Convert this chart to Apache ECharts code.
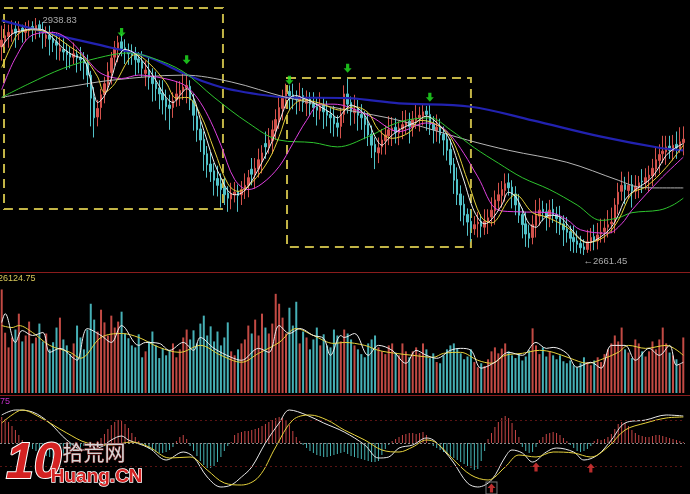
<!DOCTYPE html>
<html><head><meta charset="utf-8">
<script src="https://cdn.jsdelivr.net/npm/echarts/dist/echarts.min.js"></script>
<style>html,body{margin:0;padding:0;background:#000;}#c{width:690px;height:494px;}</style>
</head><body><div id="c"></div>
<script>
// ---------- price (OHLC) ----------
const opens = [
2905,2912,2917,2920,2926,2921,2927,2922,2924,2929,
2925,2931,2925,2915,2919,2915,2911,2900,2902,2900,
2897,2893,2896,2893,2890,2886,2872,2846,2823,2834,
2849,2861,2875,2893,2903,2911,2904,2901,2899,2896,
2891,2888,2874,2877,2870,2863,2857,2851,2844,2837,
2834,2843,2849,2853,2857,2859,2842,2824,2809,2797,
2780,2768,2760,2751,2745,2740,2734,2727,2732,2736,
2732,2737,2743,2762,2757,2762,2772,2792,2789,2795,
2807,2819,2833,2844,2853,2849,2846,2842,2848,2839,
2844,2839,2835,2830,2837,2830,2826,2823,2816,2812,
2826,2850,2840,2828,2833,2826,2822,2815,2803,2791,
2781,2788,2795,2801,2807,2811,2804,2809,2813,2818,
2811,2819,2821,2824,2830,2826,2815,2807,2812,2803,
2797,2785,2768,2750,2733,2721,2709,2701,2692,2698,
2701,2694,2700,2706,2713,2725,2731,2737,2746,2741,
2733,2721,2709,2698,2687,2682,2696,2707,2715,2712,
2705,2715,2709,2705,2698,2692,2689,2682,2678,2675,
2671,2668,2676,2683,2678,2686,2689,2694,2698,2700,
2721,2736,2744,2737,2744,2736,2741,2748,2746,2751,
2754,2762,2772,2780,2782,2789,2783,2791,2786,2793];
const closes = [
2913,2918,2922,2925,2921,2926,2923,2925,2928,2926,
2930,2924,2921,2919,2914,2910,2907,2904,2899,2896,
2893,2897,2892,2890,2886,2872,2845,2822,2833,2849,
2862,2876,2892,2904,2910,2903,2900,2897,2895,2890,
2887,2880,2878,2869,2862,2856,2850,2843,2835,2833,
2842,2850,2854,2858,2860,2843,2825,2808,2796,2779,
2767,2759,2749,2743,2738,2732,2728,2733,2735,2731,
2738,2743,2752,2756,2763,2773,2781,2788,2796,2808,
2820,2834,2845,2852,2848,2844,2843,2847,2840,2843,
2838,2834,2831,2836,2829,2825,2822,2815,2811,2825,
2850,2838,2829,2832,2825,2822,2814,2802,2790,2782,
2787,2796,2802,2808,2810,2805,2810,2814,2817,2812,
2820,2822,2825,2829,2826,2814,2808,2811,2802,2796,
2784,2767,2749,2732,2720,2708,2700,2693,2697,2700,
2695,2701,2705,2714,2726,2732,2738,2745,2740,2732,
2720,2708,2697,2686,2681,2697,2708,2714,2711,2706,
2714,2708,2704,2697,2691,2688,2681,2677,2674,2670,
2668,2677,2682,2679,2685,2688,2693,2697,2700,2720,
2735,2743,2738,2743,2737,2742,2746,2747,2752,2755,
2763,2773,2779,2783,2788,2784,2790,2787,2794,2797];
const highs = [
2930,2932,2931,2936,2935,2935,2931,2934,2936,2935,
2938.83,2936,2934,2929,2930,2923,2921,2917,2915,2909,
2906,2910,2902,2905,2899,2896,2877,2858,2843,2856,
2870,2887,2899,2912,2918,2920,2914,2909,2908,2905,
2899,2900,2889,2893,2880,2876,2866,2866,2855,2849,
2852,2865,2865,2875,2874,2866,2850,2834,2818,2806,
2789,2782,2769,2766,2757,2752,2742,2746,2747,2744,
2748,2757,2761,2775,2775,2786,2790,2806,2810,2819,
2832,2847,2855,2862,2860,2862,2854,2863,2857,2854,
2852,2852,2845,2852,2845,2842,2834,2836,2825,2834,
2860,2868,2847,2849,2843,2838,2830,2828,2813,2799,
2799,2809,2813,2824,2823,2822,2818,2830,2831,2828,
2830,2837,2835,2838,2836,2838,2824,2826,2821,2812,
2804,2797,2775,2764,2743,2731,2716,2714,2707,2712,
2709,2715,2715,2729,2737,2746,2748,2757,2757,2749,
2742,2733,2716,2712,2697,2708,2726,2728,2725,2722,
2726,2727,2718,2719,2708,2706,2696,2696,2690,2684,
2680,2691,2693,2697,2699,2704,2704,2714,2717,2728,
2746,2759,2753,2759,2755,2755,2754,2762,2763,2766,
2774,2787,2791,2801,2801,2801,2802,2806,2811,2812];
const lows = [
2889,2905,2904,2911,2904,2913,2910,2911,2917,2911,
2914,2916,2903,2905,2895,2899,2890,2889,2889,2878,
2880,2885,2875,2877,2867,2858,2812,2799,2812,2820,
2839,2853,2861,2883,2887,2894,2885,2884,2884,2872,
2874,2870,2859,2855,2841,2842,2832,2826,2819,2808,
2822,2835,2836,2843,2839,2831,2807,2794,2782,2760,
2752,2747,2731,2730,2717,2720,2712,2715,2723,2712,
2720,2727,2729,2743,2739,2752,2757,2774,2780,2780,
2796,2809,2819,2833,2831,2832,2826,2830,2829,2824,
2824,2823,2813,2820,2809,2812,2804,2800,2800,2798,
2816,2827,2813,2815,2807,2808,2797,2789,2775,2762,
2769,2779,2779,2790,2789,2792,2790,2797,2803,2792,
2800,2809,2806,2813,2807,2802,2792,2794,2792,2778,
2772,2757,2733,2720,2701,2696,2684,2677,2685,2682,
2682,2685,2686,2695,2697,2714,2717,2724,2731,2716,
2708,2699,2681,2671,2670,2674,2682,2696,2701,2690,
2694,2699,2687,2685,2672,2676,2666,2664,2664,2663,
2661.45,2664,2666,2667,2668,2676,2676,2682,2687,2687,
2709,2725,2721,2727,2717,2727,2728,2734,2738,2735,
2742,2753,2757,2769,2767,2774,2772,2774,2781,2778];

// moving averages: [bar index, price]
const ma5 = [[0,2905],[3,2920],[6,2924],[9,2926],[12,2925],[15,2915],[18,2903],[21,2895],[24,2890],[26,2866],[27,2850],[28,2840],[30,2848],[32,2868],[34,2893],[36,2902],[39,2897],[42,2884],[45,2866],[48,2846],[50,2840],[52,2848],[54,2856],[56,2846],[58,2820],[60,2795],[62,2770],[64,2752],[66,2737],[68,2732],[70,2734],[72,2742],[74,2755],[76,2770],[78,2786],[80,2805],[82,2828],[84,2845],[86,2848],[88,2845],[90,2842],[93,2835],[96,2828],[98,2822],[100,2830],[102,2837],[105,2830],[107,2818],[109,2800],[111,2790],[113,2798],[115,2805],[118,2812],[121,2817],[124,2824],[126,2820],[129,2808],[131,2795],[133,2772],[135,2748],[137,2722],[139,2705],[141,2698],[143,2703],[146,2720],[148,2735],[150,2730],[152,2715],[154,2698],[156,2694],[158,2703],[160,2708],[163,2706],[166,2693],[169,2680],[171,2676],[173,2678],[176,2686],[178,2694],[180,2708],[182,2726],[185,2738],[188,2746],[190,2753],[192,2765],[194,2778],[196,2785],[199,2792]];
const ma10 = [[0,2881],[3,2908],[5,2921],[9,2925],[14,2921],[20,2905],[24,2893],[28,2870],[30,2852],[33,2862],[37,2890],[39,2896],[43,2886],[48,2863],[51,2845],[54,2846],[58,2826],[62,2785],[66,2745],[69,2736],[73,2746],[78,2773],[81,2800],[84,2831],[88,2843],[93,2839],[99,2831],[103,2835],[107,2828],[110,2808],[114,2798],[119,2805],[122,2819],[126,2816],[131,2800],[136,2749],[140,2706],[143,2699],[148,2726],[150,2732],[155,2711],[159,2706],[165,2694],[171,2676],[176,2683],[180,2702],[184,2734],[188,2741],[194,2764],[199,2790]];
const ma20 = [[0,2855],[4,2892],[9,2919],[15,2922],[20,2912],[25,2890],[29,2874],[35,2868],[40,2872],[45,2870],[52,2863],[55,2855],[58,2840],[61,2818],[64,2790],[68,2750],[72,2738],[76,2745],[81,2765],[85,2792],[89,2819],[93,2838],[97,2838],[101,2835],[108,2823],[116,2806],[124,2816],[128,2812],[131,2802],[135,2780],[139,2753],[145,2714],[151,2712],[160,2711],[165,2703],[169,2691],[177,2687],[181,2698],[184,2714],[192,2749],[199,2776]];
const ma30 = [[0,2846],[8,2862],[18,2880],[28,2892],[37,2898],[44,2892],[53,2876],[62,2846],[72,2816],[81,2796],[91,2793],[98,2788],[107,2800],[116,2817],[125,2822],[131,2808],[138,2787],[145,2769],[152,2752],[160,2738],[168,2720],[175,2702],[180,2705],[184,2711],[192,2714],[196,2720],[199,2728]];
const ma60 = [[0,2846],[10,2853],[19,2858],[32,2866],[53,2872],[67,2864],[83,2846],[101,2831],[116,2819],[136,2796],[148,2784],[165,2770],[180,2749],[186,2741],[192,2740],[199,2740]];
const ma120 = [[0,2936],[15,2920],[32,2904],[43,2893],[52,2876],[60,2863],[67,2855],[83,2846],[101,2845],[116,2839],[137,2835],[155,2819],[175,2800],[192,2787],[199,2784]];

// annotations
const boxes = [[0.67,2950.5,64.6,2715.3],[83.3,2868.6,137.0,2670.8]];
const topArrows = [[35,2922],[54,2890],[84,2866],[101,2880],[125,2846]];
const extremes = [[10,2938.83,'2938.83'],[170,2661.45,'←2661.45']];

// ---------- volume ----------
const volumes = [
26100,15200,11500,14000,16000,20000,13000,14500,18000,12500,
14000,17500,13000,15000,11000,12800,16500,19000,13500,12000,
9800,12500,17000,14000,11000,16000,22500,18500,15500,21000,
17800,14500,19500,16500,18000,20500,15000,13800,12000,11500,
14800,9000,10500,13000,15500,12000,8800,11200,9500,10800,
12500,9000,11000,14000,16000,13500,15800,12500,17500,19500,
14500,16800,13000,15500,12000,14000,17800,10500,9500,11000,
12500,13500,17000,15000,18500,14500,20000,16500,15000,17500,
25000,22500,19000,15000,21500,17000,23000,12500,15500,14000,
11000,13500,16500,12000,14800,12000,11500,16000,14500,13000,
16000,15000,13500,12000,11000,9800,9000,12500,13500,14500,
11500,10500,9800,12000,12500,10200,9500,12500,10500,9000,
10500,11500,10000,12500,11000,8800,10000,7800,7500,9500,
11000,12000,12500,11200,10000,8500,9200,11000,7800,6500,
7500,6800,8500,10500,11500,10000,11200,12500,10500,9500,
8800,9800,8200,9200,10800,16300,12000,9800,11500,9200,
10500,9500,8500,9500,8000,7500,8200,7000,6500,7500,
9000,7800,7000,8200,9000,7800,9800,11000,12500,14500,
13000,16500,11000,10200,8800,13500,12500,10500,9200,10500,
13000,11000,13500,16500,12500,10200,9500,8500,7200,14000];
const volMa5 = [[0,17750],[1,20000],[4,12750],[6,15750],[9,14500],[12,15250],[14,10250],[17,11250],[21,8750],[22,8250],[25,16250],[29,14500],[32,12750],[35,17000],[40,12000],[42,12750],[46,12500],[49,10750],[53,12750],[56,10750],[58,14000],[62,11250],[67,9000],[70,8250],[75,11250],[78,10250],[81,17000],[84,15000],[87,16250],[91,14500],[94,13750],[96,9500],[99,14500],[100,14000],[103,15000],[107,9500],[110,12000],[114,10750],[118,7500],[121,10750],[124,9500],[127,8750],[131,10750],[134,11250],[137,10750],[140,6250],[144,7750],[148,10250],[152,9500],[156,12750],[159,11250],[161,11500],[165,10000],[168,6500],[172,7750],[175,6250],[178,12000],[182,12000],[185,8250],[189,11250],[192,9500],[195,12000],[197,7000],[199,7750]];
const volMa10 = [[0,17000],[3,16500],[5,17000],[9,15250],[14,12000],[20,10250],[23,8750],[29,14000],[35,15000],[40,14000],[46,11500],[52,10250],[58,12000],[64,9500],[70,7750],[75,10000],[81,12750],[86,16250],[91,14500],[97,12500],[100,12750],[106,12000],[110,10750],[115,10000],[120,9500],[126,9000],[129,10000],[134,10250],[139,8250],[143,7500],[147,9500],[152,10000],[157,10750],[161,10250],[166,8750],[171,7500],[176,8750],[180,10250],[183,12000],[188,11250],[194,12000],[199,9500]];

// ---------- MACD ----------
const macdHist = [
26,24,21,17,13,8,3,-2,-4,-6,
-8,-10,-12,-13,-14,-15,-15,-14,-13,-11,
-9,-8,-6,-5,-3,-2,-3,-1,2,5,
9,14,18,21,23,22,19,15,10,6,
2,-2,-4,-6,-8,-9,-10,-10,-9,-7,
-4,2,6,8,4,-3,-8,-13,-18,-22,
-25,-25,-23,-19,-14,-8,-3,1,8,10,
11,12,12,13,14,15,17,19,21,23,
25,26,25,22,18,12,6,2,-2,-5,
-8,-10,-12,-13,-14,-14,-13,-12,-11,-10,
-9,-11,-13,-14,-15,-16,-17,-18,-19,-19,
-18,-12,-6,-2,2,4,6,8,9,10,
10,9,10,11,8,-1,-3,-5,-7,-9,
-11,-13,-15,-17,-19,-21,-23,-25,-27,-26,
-18,-8,4,10,16,21,25,27,25,20,
13,6,-4,-8,-10,-9,-4,3,6,9,
10,11,10,8,5,2,-2,-5,-8,-9,
-8,-6,-3,2,4,3,4,6,9,14,
19,21,20,17,13,10,8,7,6,6,
7,8,8,7,6,5,4,3,2,1];
const dif = [[0,28],[4,33],[9,31],[14,20],[19,3],[24,-7],[29,-4],[32,3],[35,7],[37,3],[43,-5],[48,-17],[53,-9],[56,-14],[60,-34],[64,-44],[67,-42],[70,-34],[73,-24],[77,0],[81,20],[84,33],[89,28],[94,20],[100,11],[106,-2],[110,-15],[113,-14],[116,-5],[120,-2],[124,5],[126,3],[129,-7],[132,-20],[136,-40],[139,-44],[143,-37],[147,-14],[149,-7],[152,-10],[155,-19],[159,-9],[162,-5],[167,-9],[170,-17],[174,-12],[178,3],[182,20],[188,23],[194,28],[199,27]];
const dea = [[0,20],[3,28],[6,33],[11,26],[19,10],[25,0],[32,-2],[38,1],[43,-4],[49,-15],[55,-14],[60,-27],[65,-40],[70,-42],[75,-34],[80,-4],[85,23],[90,28],[95,23],[100,13],[106,3],[111,-7],[116,-9],[120,-4],[124,3],[127,0],[132,-17],[137,-32],[142,-37],[147,-24],[151,-12],[156,-14],[161,-9],[167,-10],[172,-14],[177,-4],[182,13],[188,20],[194,25],[199,26]];
const macdArrows = [[143,-45],[156,-24],[172,-25]];
const boxedArrows = [[143,-45]];

// ---------- chart ----------
const N = closes.length;
const categories = closes.map((_, i) => String(i));
const UP = '#d4524c', DOWN = '#52c2c8';
const VUP = '#c24a44', VDOWN = '#46b0b6';

const chart = echarts.init(document.getElementById('c'), null, {renderer: 'canvas'});
const grids = [
  {left: 0, right: 5, top: 0, height: 272},
  {left: 0, right: 5, top: 274, height: 119},
  {left: 0, right: 5, top: 397, height: 97}
];
const catAxis = g => ({type: 'category', gridIndex: g, data: categories, show: false, boundaryGap: true});
const valAxis = g => ({type: 'value', gridIndex: g, min: -0.5, max: N - 0.5, show: false});
function maLine(name, data, color, width, xi, yi, z) {
  return {name, type: 'line', xAxisIndex: xi, yAxisIndex: yi, data, smooth: 0.35,
    showSymbol: false, symbol: 'none', silent: true, z: z || 3,
    lineStyle: {color, width: width || 1}};
}
const downArrow = 'path://M3,0H7V5H10L5,10L0,5H3Z';
const upArrow = 'path://M5,0L10,5H7V10H3V5H0Z';
const smallFont = {color: '#d2d2d2', fontSize: 9.5, fontFamily: 'Liberation Sans'};

chart.setOption({
  backgroundColor: '#000000',
  animation: false,
  grid: grids,
  xAxis: [catAxis(0), catAxis(1), catAxis(2), valAxis(0), valAxis(1), valAxis(2)],
  yAxis: [
    {type: 'value', gridIndex: 0, min: 2641.6, max: 2959.9, show: false, splitLine: {show: false}},
    {type: 'value', gridIndex: 1, min: 0, max: 30000, show: false, splitLine: {show: false}},
    {type: 'value', gridIndex: 2, min: -51, max: 46, show: false, splitLine: {show: false}}
  ],
  series: [
    {type: 'candlestick', xAxisIndex: 0, yAxisIndex: 0, barWidth: 2,
     data: closes.map((c, i) => [opens[i], c, lows[i], highs[i]]),
     itemStyle: {color: UP, color0: DOWN, borderColor: UP, borderColor0: DOWN, borderWidth: 1}, z: 2},
    maLine('MA120', ma120, '#2222b0', 2.2, 3, 0),
    maLine('MA60', ma60, '#b4b4b4', 1, 3, 0),
    maLine('MA30', ma30, '#2ec42e', 1, 3, 0),
    maLine('MA20', ma20, '#e040e0', 1, 3, 0),
    maLine('MA10', ma10, '#e6d23c', 1, 3, 0),
    maLine('MA5', ma5, '#f0f0f0', 1, 3, 0),
    {type: 'line', xAxisIndex: 3, yAxisIndex: 0, data: [], silent: true, z: 4,
     markArea: {silent: true,
       itemStyle: {color: 'rgba(0,0,0,0)', borderColor: '#c2b446', borderWidth: 2, borderType: [9, 6]},
       data: boxes.map(b => [{coord: [b[0], b[1]]}, {coord: [b[2], b[3]]}])}},
    {type: 'scatter', xAxisIndex: 3, yAxisIndex: 0, data: topArrows, symbol: downArrow,
     symbolSize: [8, 9], itemStyle: {color: '#22e622'}, z: 6, silent: true},
    {type: 'scatter', xAxisIndex: 3, yAxisIndex: 0, symbolSize: 1, silent: true, z: 6,
     itemStyle: {color: 'rgba(0,0,0,0)'},
     data: [
       {value: [extremes[0][0], extremes[0][1]], label: Object.assign({show: true, formatter: extremes[0][2], position: [7, -2], align: 'left', verticalAlign: 'top'}, smallFont)},
       {value: [extremes[1][0], extremes[1][1]], label: Object.assign({show: true, formatter: extremes[1][2], position: [0, 2], align: 'left', verticalAlign: 'top'}, smallFont)}
     ]},
    {type: 'bar', xAxisIndex: 1, yAxisIndex: 1, barWidth: 2, silent: true,
     data: volumes.map((v, i) => ({value: v, itemStyle: {color: closes[i] >= opens[i] ? VUP : VDOWN}}))},
    maLine('VMA10', volMa10, '#e6d23c', 1, 4, 1),
    maLine('VMA5', volMa5, '#f0f0f0', 1, 4, 1),
    {type: 'bar', xAxisIndex: 2, yAxisIndex: 2, barWidth: 1, silent: true,
     data: macdHist.map(v => ({value: v, itemStyle: {color: v >= 0 ? '#c84646' : '#46b4b4'}})),
     markLine: {silent: true, symbol: 'none', label: {show: false},
       data: [
         {yAxis: 0, lineStyle: {color: '#8a8a8a', type: [2, 2], width: 1}},
         {yAxis: 23, lineStyle: {color: '#5a1414', type: [2, 3], width: 1}},
         {yAxis: -23, lineStyle: {color: '#5a1414', type: [2, 3], width: 1}}
       ]}},
    maLine('DIF', dif, '#e8e8e8', 1, 5, 2),
    maLine('DEA', dea, '#e6d23c', 1, 5, 2),
    {type: 'scatter', xAxisIndex: 5, yAxisIndex: 2, data: boxedArrows, symbol: 'rect',
     symbolSize: [11, 12], itemStyle: {color: 'rgba(0,0,0,0)', borderColor: '#9a9a9a', borderWidth: 1}, z: 5, silent: true},
    {type: 'scatter', xAxisIndex: 5, yAxisIndex: 2, data: macdArrows, symbol: upArrow,
     symbolSize: [8, 9], itemStyle: {color: '#e83838'}, z: 6, silent: true}
  ],
  graphic: [
    {type: 'line', shape: {x1: 0, y1: 272.5, x2: 690, y2: 272.5}, style: {stroke: '#8a1c1c', lineWidth: 1}, z: 10},
    {type: 'line', shape: {x1: 0, y1: 395.5, x2: 690, y2: 395.5}, style: {stroke: '#8a1c1c', lineWidth: 1}, z: 10},
    {type: 'text', left: -2, top: 274, style: {text: '26124.75', fill: '#d8c85a', font: '9px "Liberation Sans"'}, z: 10},
    {type: 'text', left: 0, top: 397, style: {text: '75', fill: '#c030c8', font: '9px "Liberation Sans"'}, z: 10},
    {type: 'text', left: 5, top: 438, style: {text: '10', fill: '#d42222', stroke: '#ffffff', lineWidth: 2, font: 'italic bold 50px "Liberation Sans"'}, z: 20},
    {type: 'text', left: 62, top: 441, style: {text: '拾荒网', fill: '#d6d6d6', stroke: '#7a2020', lineWidth: 1, font: '21px "Noto Sans CJK SC"'}, z: 20},
    {type: 'text', left: 50, top: 467, style: {text: 'Huang.CN', fill: '#d42222', stroke: '#ffffff', lineWidth: 1.5, font: 'bold 19px "Liberation Sans"'}, z: 20}
  ]
});
</script>
</body></html>
